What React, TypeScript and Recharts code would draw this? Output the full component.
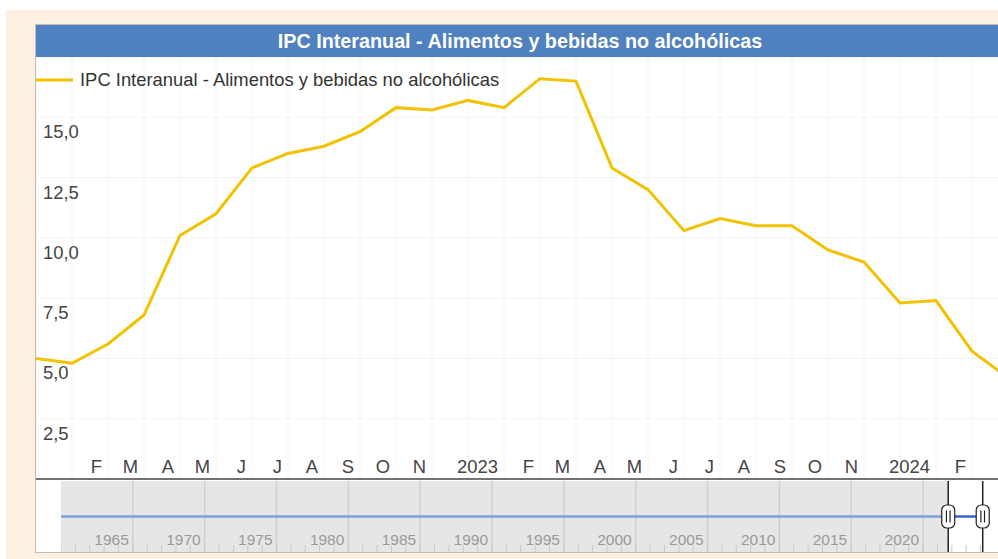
import {
  CartesianGrid,
  Legend,
  Line,
  LineChart,
  ReferenceArea,
  ReferenceDot,
  ReferenceLine,
  XAxis,
  YAxis,
} from "recharts";

// monthly points, Dec 2021 .. Mar 2024
const months = [
  "2021-12", "2022-01", "2022-02", "2022-03", "2022-04", "2022-05", "2022-06",
  "2022-07", "2022-08", "2022-09", "2022-10", "2022-11", "2022-12", "2023-01",
  "2023-02", "2023-03", "2023-04", "2023-05", "2023-06", "2023-07", "2023-08",
  "2023-09", "2023-10", "2023-11", "2023-12", "2024-01", "2024-02", "2024-03",
];

// tick text shown for each month ("" = hidden by the chart)
const monthTicks = [
  "", "", "F", "M", "A", "M", "J", "J", "A", "S", "O", "N", "", "2023",
  "F", "M", "A", "M", "J", "J", "A", "S", "O", "N", "", "2024", "F", "",
];

const ipcValues = [
  5.0, 4.8, 5.6, 6.8, 10.1, 11.0, 12.9, 13.5, 13.8, 14.4, 15.4, 15.3, 15.7, 15.4,
  16.6, 16.5, 12.9, 12.0, 10.3, 10.8, 10.5, 10.5, 9.5, 9.0, 7.3, 7.4, 5.3, 4.2,
];

const yTicks = [0, 2.5, 5, 7.5, 10, 12.5, 15, 17.5];
const yLabelTicks = [2.5, 5, 7.5, 10, 12.5, 15];

// navigator
const navRange = [1960, 2024.17];
const navSelection = [2021.75, 2024.15];
const navYearLabels = [1965, 1970, 1975, 1980, 1985, 1990, 1995, 2000, 2005, 2010, 2015, 2020];
const navLevel = 0.5;

const SERIES_NAME = "IPC Interanual - Alimentos y bebidas no alcohólicas";
const FONT = "'Liberation Sans', Arial, sans-serif";
const LINE_COLOR = "#f2c200";
const LABEL_SIZE = 18.4;

const data = months.map((month, i) => ({ month, value: ipcValues[i] }));

const navData = [
  { year: navRange[0], masked: navLevel },
  { year: navSelection[0], masked: navLevel, selected: navLevel },
  { year: navSelection[1], selected: navLevel },
];

const navMinorTicks = Array.from(
  { length: Math.floor(navRange[1]) - navRange[0] + 1 },
  (_, i) => navRange[0] + i,
);

function MonthTick(props: any) {
  const { x, y, payload } = props;
  const label = monthTicks[months.indexOf(payload.value)];
  if (!label) return null;
  return (
    <text x={x - 6} y={y - 6} textAnchor="end" fontSize={LABEL_SIZE} fill="#444" fontFamily={FONT}>
      {label}
    </text>
  );
}

function ValueTick(props: any) {
  const { x, y, payload } = props;
  if (!yLabelTicks.includes(payload.value)) return null;
  return (
    <text x={x + 7} y={y + 21} textAnchor="start" fontSize={LABEL_SIZE} fill="#444" fontFamily={FONT}>
      {payload.value.toFixed(1).replace(".", ",")}
    </text>
  );
}

function NavTick(props: any) {
  const { x, y, payload } = props;
  const showLabel = navYearLabels.includes(payload.value);
  return (
    <g>
      <line x1={x} x2={x} y1={y - 7} y2={y} stroke="#c8c8c8" />
      {showLabel && (
        <text x={x - 4} y={y - 7.5} textAnchor="end" fontSize={15.5} fill="#999" fontFamily={FONT}>
          {payload.value}
        </text>
      )}
    </g>
  );
}

function Handle(props: any) {
  const { cx, cy } = props;
  return (
    <g>
      <rect x={cx - 6.5} y={cy - 11.5} width={13} height={23} rx={5} fill="#fff" stroke="#222" strokeWidth={1.2} />
      <line x1={cx - 1.8} x2={cx - 1.8} y1={cy - 6} y2={cy + 6} stroke="#222" strokeWidth={1.2} />
      <line x1={cx + 1.8} x2={cx + 1.8} y1={cy - 6} y2={cy + 6} stroke="#222" strokeWidth={1.2} />
    </g>
  );
}

function LegendContent() {
  return (
    <div style={{ display: "flex", alignItems: "center", fontFamily: FONT }}>
      <svg width={40} height={10}>
        <line x1={0} x2={37} y1={5} y2={5} stroke={LINE_COLOR} strokeWidth={3} />
      </svg>
      <span style={{ marginLeft: 4, fontSize: LABEL_SIZE, color: "#333", whiteSpace: "nowrap" }}>
        {SERIES_NAME}
      </span>
    </div>
  );
}

export default function App() {
  return (
    <div
      style={{
        position: "absolute",
        left: 0,
        top: 0,
        width: 998,
        height: 559,
        overflow: "hidden",
        background: "#fff",
      }}
    >
      <div
        style={{
          position: "absolute",
          left: 6,
          top: 10,
          width: 1100,
          height: 560,
          background: "#fdf0e0",
        }}
      />
      <div
        style={{
          position: "absolute",
          left: 35,
          top: 24,
          width: 970,
          height: 529,
          boxSizing: "border-box",
          border: "1px solid #c4bcb4",
          background: "#fff",
        }}
      >
        <div
          style={{
            height: 32,
            background: "#4f80bf",
            color: "#fff",
            fontFamily: FONT,
            fontWeight: "bold",
            fontSize: 19.75,
            lineHeight: "32px",
            textAlign: "center",
            whiteSpace: "nowrap",
          }}
        >
          {SERIES_NAME}
        </div>
      </div>

      <div style={{ position: "absolute", left: 36, top: 57 }}>
        <LineChart
          width={980}
          height={424}
          data={data}
          margin={{ top: 0, right: 8, bottom: 2, left: 0 }}
        >
          <CartesianGrid stroke="#f3f3f3" />
          <XAxis
            dataKey="month"
            mirror
            interval={0}
            tickSize={0}
            tickMargin={0}
            tickLine={false}
            axisLine={{ stroke: "#444", strokeWidth: 1.5 }}
            tick={<MonthTick />}
          />
          <YAxis
            mirror
            domain={[0, 17.5]}
            ticks={yTicks}
            interval={0}
            tickSize={0}
            tickMargin={0}
            tickLine={false}
            axisLine={false}
            tick={<ValueTick />}
          />
          <Legend
            layout="horizontal"
            verticalAlign="middle"
            align="center"
            wrapperStyle={{ top: 12, left: 0, width: "auto", height: 20 }}
            content={<LegendContent />}
          />
          <Line
            type="linear"
            dataKey="value"
            name={SERIES_NAME}
            stroke={LINE_COLOR}
            strokeWidth={3}
            dot={false}
            activeDot={false}
            isAnimationActive={false}
          />
        </LineChart>
      </div>

      <div
        style={{
          position: "absolute",
          left: 61,
          top: 481,
          width: 930,
          height: 71,
          overflow: "hidden",
        }}
      >
        <LineChart
          width={940}
          height={71}
          data={navData}
          margin={{ top: 0, right: 18, bottom: 0, left: 0 }}
        >
          <XAxis
            type="number"
            dataKey="year"
            domain={navRange}
            ticks={navMinorTicks}
            allowDataOverflow
            mirror
            interval={0}
            tickSize={0}
            tickMargin={0}
            tickLine={false}
            axisLine={false}
            tick={<NavTick />}
          />
          <YAxis hide type="number" domain={[0, 1]} allowDataOverflow />
          <ReferenceArea
            x1={navRange[0]}
            x2={navSelection[0]}
            fill="#e6e6e6"
            fillOpacity={1}
            stroke="none"
            ifOverflow="extendDomain"
          />
          {navYearLabels.map((yr) => (
            <ReferenceLine key={yr} x={yr} stroke="#cfcfcf" strokeWidth={1.5} />
          ))}
          <Line
            type="linear"
            dataKey="masked"
            stroke="#7f9fd8"
            strokeWidth={2.5}
            dot={false}
            activeDot={false}
            isAnimationActive={false}
          />
          <Line
            type="linear"
            dataKey="selected"
            stroke="#3366cc"
            strokeWidth={2.5}
            dot={false}
            activeDot={false}
            isAnimationActive={false}
          />
          {navSelection.map((sx) => (
            <ReferenceLine key={"l" + sx} x={sx} stroke="#222" strokeWidth={1.5} />
          ))}
          {navSelection.map((sx) => (
            <ReferenceDot key={"h" + sx} x={sx} y={navLevel} shape={<Handle />} ifOverflow="visible" />
          ))}
        </LineChart>
      </div>
    </div>
  );
}
